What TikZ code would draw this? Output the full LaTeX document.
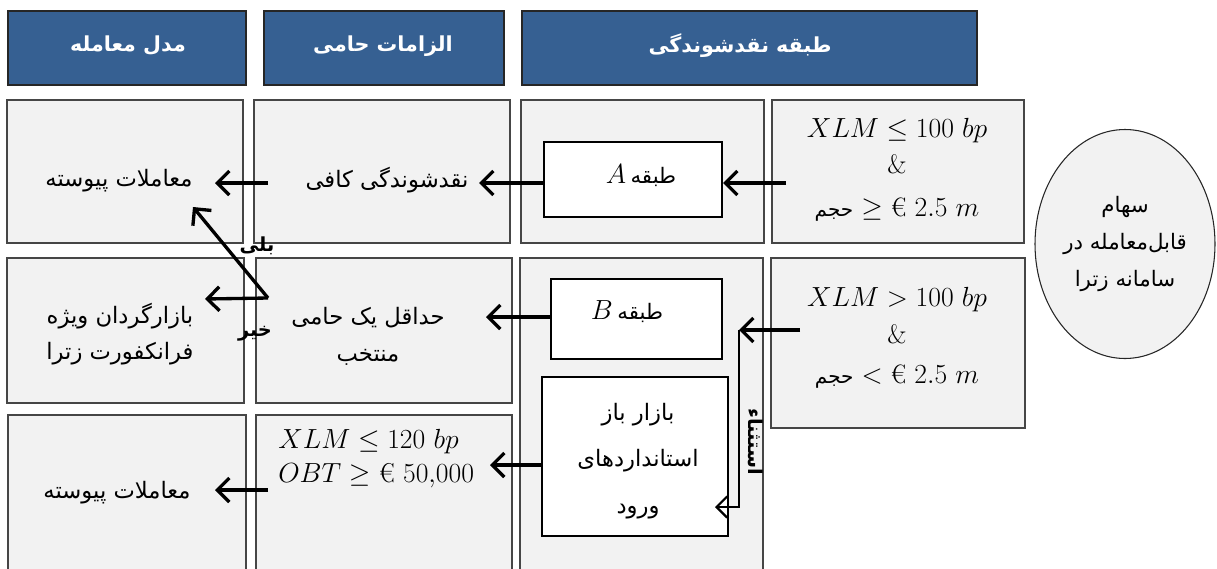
\documentclass[tikz,border=0pt]{standalone}
\usepackage{fontspec}
\usetikzlibrary{arrows.meta,shapes.geometric}
\TeXXeTstate=1
\newfontfamily\arabicfont[Script=Arabic]{DejaVu Sans}
\definecolor{hdr}{RGB}{54,96,146}
\definecolor{cellfill}{RGB}{242,242,242}
\definecolor{celldraw}{RGB}{70,70,70}
\newcommand\rectnode[6]{\pgfmathsetmacro\rcw{(#4-#2)*0.75}\pgfmathsetmacro\rch{(#5-#3)*0.75}\node[#6, anchor=north west, minimum width=\rcw pt, minimum height=\rch pt, inner sep=0pt, outer sep=0pt] (#1) at (#2,#3) {};}
\begin{document}
\begin{tikzpicture}[x=0.75pt,y=-0.75pt,
  hdrbox/.style={draw=black!85, fill=hdr, line width=0.9pt},
  cell/.style={draw=celldraw, fill=cellfill, line width=0.8pt},
  innerbox/.style={draw=black, fill=white, line width=0.8pt},
  ar/.style={font=\arabicfont\fontsize{17}{27}\selectfont, align=center, inner sep=0pt},
  hdrtxt/.style={font=\arabicfont\bfseries\fontsize{15.5}{20}\selectfont, text=white, inner sep=0pt},
  mth/.style={font=\fontsize{20}{30}\selectfont, inner sep=0pt},
  arr/.style={line width=2.5pt, -{Straight Barb[length=9pt,width=18pt]}},
  thinarr/.style={line width=1.7pt, -{Straight Barb[length=8pt,width=16pt]}},
  lbl/.style={font=\arabicfont\bfseries\fontsize{14.5}{16}\selectfont, inner sep=0pt}]
\useasboundingbox (0,0) rectangle (1217,568);
% headers
\rectnode{h1}{8}{11}{246}{85}{hdrbox}
\rectnode{h2}{264}{11}{504}{85}{hdrbox}
\rectnode{h3}{522}{11}{977}{85}{hdrbox}
\node[hdrtxt] (h1t) at (128,46) {\beginR مدل معامله\endR};
\node[hdrtxt] (h2t) at (383,46) {\beginR الزامات حامی\endR};
\node[hdrtxt] (h3t) at (740,46) {\beginR طبقه نقدشوندگی\endR};
% row 1
\rectnode{c1r1}{7}{100}{243}{243}{cell}
\rectnode{c2r1}{254}{100}{510}{243}{cell}
\rectnode{c3r1}{521}{100}{764}{243}{cell}
\rectnode{c4r1}{772}{100}{1024}{243}{cell}
\rectnode{boxA}{544}{142}{722}{217}{innerbox}
% row 2
\rectnode{c1r2}{7}{258}{244}{403}{cell}
\rectnode{c2r2}{256}{258}{512}{403}{cell}
\rectnode{c3r2}{520}{258}{763}{590}{cell}
\rectnode{c4r2}{771}{258}{1025}{428}{cell}
\rectnode{boxB}{551}{279}{722}{359}{innerbox}
\rectnode{boxC}{542}{377}{728}{536}{innerbox}
% row 3
\rectnode{c1r3}{8}{415}{246}{590}{cell}
\rectnode{c2r3}{256}{415}{512}{590}{cell}
% ellipse
\node[ellipse, draw=black!85, fill=cellfill, line width=0.8pt, minimum width=180*0.75pt, minimum height=229*0.75pt, inner sep=0pt, align=center, font=\arabicfont\fontsize{16}{28}\selectfont] (ell) at (1125,244)
  {\beginR سهام\endR\\\beginR قابل‌معامله در\endR\\\beginR سامانه زترا\endR};
% texts
\node[ar] (t11) at (119,181) {\beginR معاملات پیوسته\endR};
\node[ar] (t21) at (387,180) {\beginR نقدشوندگی کافی\endR};
\node[ar] (tA) at (641,176) {\fontsize{20}{24}\selectfont$A$\,{\fontsize{16}{24}\selectfont\beginR طبقه\endR}};
\node[mth, align=center] (t41) at (897,170) {$XLM \leq 100\ bp$\\[-3pt] $\&$\\[2pt] {\arabicfont\fontsize{15}{20}\selectfont\beginR حجم\endR} $\geq$ € $2.5\ m$};
\node[ar] (t12) at (120,334) {\beginR بازارگردان ویژه\endR\\\beginR فرانکفورت زترا\endR};
\node[ar, font=\arabicfont\fontsize{17}{28}\selectfont] (t22) at (368,336) {\beginR حداقل یک حامی\endR\\\beginR منتخب\endR};
\node[ar] (tB) at (627,312) {\fontsize{20}{24}\selectfont$B$\,{\fontsize{16}{24}\selectfont\beginR طبقه\endR}};
\node[mth, align=center] (t42) at (897,338) {$XLM > 100\ bp$\\[-2pt] $\&$\\ {\arabicfont\fontsize{15}{20}\selectfont\beginR حجم\endR} $<$ € $2.5\ m$};
\node[ar, font=\arabicfont\fontsize{17}{35}\selectfont] (tC) at (638,461) {\beginR بازار باز\endR\\\beginR استانداردهای\endR\\\beginR ورود\endR};
\node[ar] (t13) at (117,493) {\beginR معاملات پیوسته\endR};
\node[mth, align=left, anchor=west, font=\fontsize{20.5}{25.5}\selectfont] (t23) at (278,459) {$XLM \leq 120\ bp$\\ $OBT \geq$ € $50{,}000$};
% labels
\node[lbl] (yes) at (257,246) {\beginR بلی\endR};
\node[lbl] (no) at (255,334) {\beginR خیر\endR};
\node[lbl, rotate=-90] (exc) at (756,442) {\beginR استثناء\endR};
% connector coordinates
\coordinate (p1s) at (786,183); \coordinate (p1e) at (723,183);
\coordinate (p2s) at (544,183); \coordinate (p2e) at (479,183);
\coordinate (p3s) at (268,183); \coordinate (p3e) at (215,183);
\coordinate (p4s) at (800,330); \coordinate (corner) at (739,330);
\coordinate (p4e) at (715,507);
\coordinate (p5s) at (551,317); \coordinate (p5e) at (486,317);
\coordinate (fork) at (268,298); \coordinate (noe) at (205,299); \coordinate (yese) at (193,207);
\coordinate (p8s) at (542,465); \coordinate (p8e) at (490,465);
\coordinate (p9s) at (268,490); \coordinate (p9e) at (215,490);
% connectors
\draw[arr] (p1s) -- (p1e);
\draw[arr] (p2s) -- (p2e);
\draw[arr] (p3s) -- (p3e);
\draw[arr] (p4s) -- (corner);
\draw[thinarr] (corner) |- (p4e);
\draw[arr] (p5s) -- (p5e);
\draw[arr] (fork) -- (noe);
\draw[arr] (fork) -- (yese);
\draw[arr] (p8s) -- (p8e);
\draw[arr] (p9s) -- (p9e);
\end{tikzpicture}
\end{document}
